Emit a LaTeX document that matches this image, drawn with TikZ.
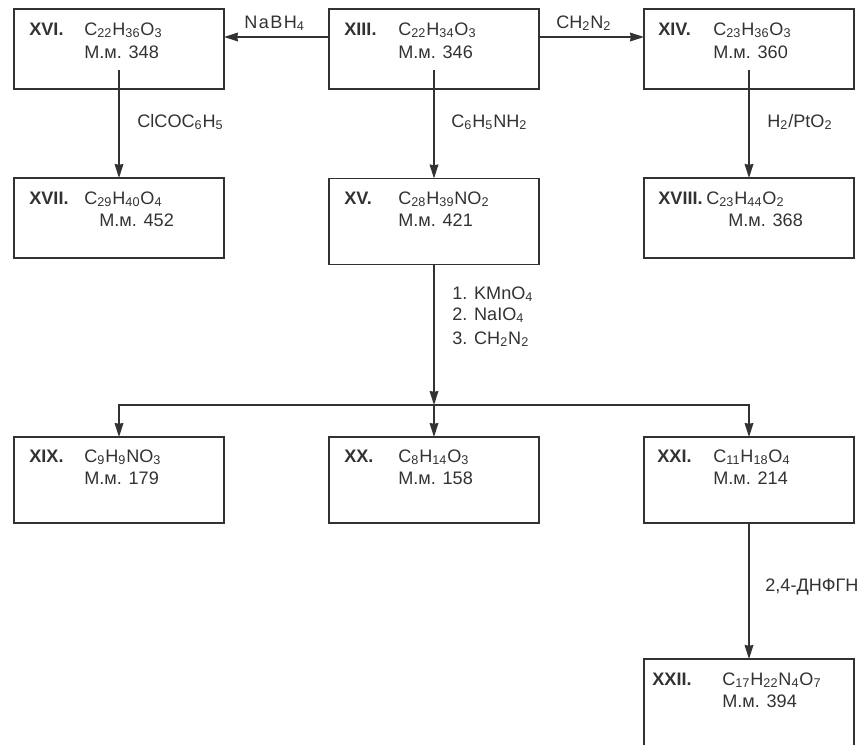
\documentclass[tikz,border=0pt]{standalone}
\usepackage{fontspec}
\usepackage{xcolor}
\setmainfont{Liberation Sans}
\usetikzlibrary{arrows.meta, positioning}
\definecolor{inkgray}{RGB}{50, 50, 50}
\tikzset{
  chembox/.style={draw=inkgray, line width=0.8pt, inner sep=0pt, outer sep=0pt, minimum width=4.2cm, minimum height=1.6cm},
  tallbox/.style={chembox, minimum height=1.72cm},
  numtext/.style={anchor=base west, inner sep=0pt, text=inkgray, font=\bfseries\fontsize{10.3}{12}\selectfont},
  chemtext/.style={anchor=base west, inner sep=0pt, text=inkgray, font=\fontsize{10.3}{12}\selectfont},
  reagent/.style={anchor=base west, inner sep=0pt, text=inkgray, font=\fontsize{10.3}{12}\selectfont},
  reactarrow/.style={draw=inkgray, line width=0.8pt, -{Stealth[length=8pt, width=5pt, inset=0.5pt]}}
}

\begin{document}
\begin{tikzpicture}[x=0.02cm, y=-0.02cm]
\useasboundingbox (0,0) rectangle (865,744);

% boxes
\node[chembox] (XVI) at (119,49) {};
\node[chembox] (XIII) at (434,49) {};
\node[chembox] (XIV) at (749,49) {};
\node[chembox] (XVII) at (119,218) {};
\node[tallbox] (XV) at (434,221.5) {};
\node[chembox] (XVIII) at (749,218) {};
\node[tallbox] (XIX) at (119,480) {};
\node[tallbox] (XX) at (434,480) {};
\node[tallbox] (XXI) at (749,480) {};
\node[chembox, minimum height=1.8cm] (XXII) at (749,704) {};

% box texts
\node[numtext] (nXVI) at (29,35) {XVI.};
\node[chemtext] (fXVI) at (84,35) {C\textsubscript{22}H\textsubscript{36}O\textsubscript{3}};
\node[chemtext] (mXVI) at (84,58) {М.м. 348};
\node[numtext] (nXIII) at (344,35) {XIII.};
\node[chemtext] (fXIII) at (398,35) {C\textsubscript{22}H\textsubscript{34}O\textsubscript{3}};
\node[chemtext] (mXIII) at (398,58) {М.м. 346};
\node[numtext] (nXIV) at (658,35) {XIV.};
\node[chemtext] (fXIV) at (713,35) {C\textsubscript{23}H\textsubscript{36}O\textsubscript{3}};
\node[chemtext] (mXIV) at (713,58) {М.м. 360};

\node[numtext] (nXVII) at (29,204) {XVII.};
\node[chemtext] (fXVII) at (84,204) {C\textsubscript{29}H\textsubscript{40}O\textsubscript{4}};
\node[chemtext] (mXVII) at (99,226) {М.м. 452};
\node[numtext] (nXV) at (344,204) {XV.};
\node[chemtext] (fXV) at (398,204) {C\textsubscript{28}H\textsubscript{39}NO\textsubscript{2}};
\node[chemtext] (mXV) at (398,226) {М.м. 421};
\node[numtext] (nXVIII) at (658,204) {XVIII.};
\node[chemtext] (fXVIII) at (706,204) {C\textsubscript{23}H\textsubscript{44}O\textsubscript{2}};
\node[chemtext] (mXVIII) at (728,226) {М.м. 368};

\node[numtext] (nXIX) at (29,462) {XIX.};
\node[chemtext] (fXIX) at (84,462) {C\textsubscript{9}H\textsubscript{9}NO\textsubscript{3}};
\node[chemtext] (mXIX) at (84,484) {М.м. 179};
\node[numtext] (nXX) at (344,462) {XX.};
\node[chemtext] (fXX) at (398,462) {C\textsubscript{8}H\textsubscript{14}O\textsubscript{3}};
\node[chemtext] (mXX) at (398,484) {М.м. 158};
\node[numtext] (nXXI) at (657,462) {XXI.};
\node[chemtext] (fXXI) at (713,462) {C\textsubscript{11}H\textsubscript{18}O\textsubscript{4}};
\node[chemtext] (mXXI) at (713,484) {М.м. 214};
\node[numtext] (nXXII) at (652,685) {XXII.};
\node[chemtext] (fXXII) at (722,685) {C\textsubscript{17}H\textsubscript{22}N\textsubscript{4}O\textsubscript{7}};
\node[chemtext] (mXXII) at (722,707) {М.м. 394};

% reagents
\node[reagent] (rNaBH) at (244,28) {\addfontfeature{LetterSpace=8}NaBH\textsubscript{4}};
\node[reagent] (rCHN) at (556,28) {CH\textsubscript{2}N\textsubscript{2}};
\node[reagent] (rClCOC) at (137,127) {ClCOC\textsubscript{6}H\textsubscript{5}};
\node[reagent] (rCHNH) at (451,127) {C\textsubscript{6}H\textsubscript{5}NH\textsubscript{2}};
\node[reagent] (rHPt) at (767,127) {H\textsubscript{2}/PtO\textsubscript{2}};
\node[reagent] (rKMn) at (452,299) {1. KMnO\textsubscript{4}};
\node[reagent] (rNaI) at (452,320) {2. NaIO\textsubscript{4}};
\node[reagent] (rCHNb) at (452,344) {3. CH\textsubscript{2}N\textsubscript{2}};
\node[reagent] (rDNPH) at (765,591) {2,4-ДНФГН};

% free ends
\coordinate (tXVI) at (119,70);
\coordinate (tXIII) at (434,70);
\coordinate (tXIV) at (749,70);
\coordinate (split) at (434,405);

% connectors
\draw[reactarrow] (XIII.west |- 0,37) -- (XVI.east |- 0,37);
\draw[reactarrow] (XIII.east |- 0,37) -- (XIV.west |- 0,37);
\draw[reactarrow] (tXVI) -- (XVII.north);
\draw[reactarrow] (tXIII) -- (XV.north);
\draw[reactarrow] (tXIV) -- (XVIII.north);
\draw[reactarrow] (XV.south) -- (split);
\draw[reactarrow] (split) -- (XX.north);
\draw[reactarrow] (split) -| (XIX.north);
\draw[reactarrow] (split) -| (XXI.north);
\draw[reactarrow] (XXI.south) -- (XXII.north);

\end{tikzpicture}
\end{document}
